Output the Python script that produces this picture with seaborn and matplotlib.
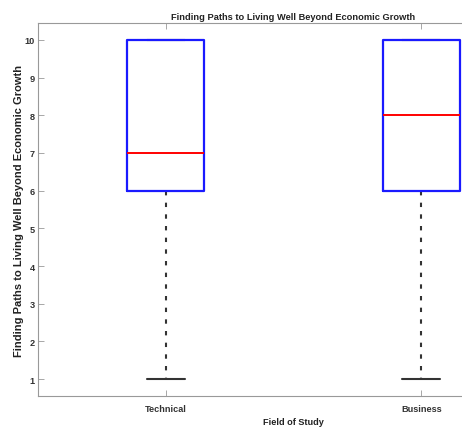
import matplotlib
matplotlib.use("Agg")
import matplotlib.pyplot as plt
import seaborn as sns
import pandas as pd

# Survey responses (scale 1-10) per field of study
categories = ["Technical", "Business"]
technical_scores = [1, 6, 6, 7, 7, 10, 10, 10, 10]
business_scores = [1, 6, 6, 8, 8, 10, 10, 10, 10]
y_ticks = [1, 2, 3, 4, 5, 6, 7, 8, 9, 10]

title = "Finding Paths to Living Well Beyond Economic Growth"
xlabel = "Field of Study"
ylabel = "Finding Paths to Living Well Beyond Economic Growth"

df = pd.DataFrame({
    "field": [categories[0]] * len(technical_scores) + [categories[1]] * len(business_scores),
    "score": technical_scores + business_scores,
})

sns.set_style("white")
plt.rcParams["font.family"] = ["Liberation Sans", "DejaVu Sans"]
plt.rcParams["font.weight"] = "bold"

fig = plt.figure(figsize=(4.62, 4.31), dpi=100)
ax = fig.add_axes([38 / 462, 34 / 431, 511 / 462, 373 / 431])

box_blue = (0.1, 0.1, 1.0)
sns.boxplot(
    data=df, x="field", y="score", order=categories, ax=ax,
    width=0.3, fill=False, color="blue", linewidth=1.6,
    whis=1.5, showfliers=False,
    boxprops=dict(color=box_blue, linewidth=1.6),
    medianprops=dict(color="red", linewidth=1.4),
    whiskerprops=dict(color="#333333", linestyle=(0, (2.1, 3.5)), linewidth=1.5),
    capprops=dict(color="#333333", linewidth=1.5),
)

# draw the blue boxes and red medians above the caps
for ln in ax.lines:
    c = matplotlib.colors.to_rgb(ln.get_color())
    if c == box_blue:
        ln.set_zorder(4)
    elif c == (1.0, 0.0, 0.0):
        ln.set_zorder(5)

ax.set_xlim(-0.5, 1.5)
ax.set_ylim(0.55, 10.45)
ax.set_yticks(y_ticks)
ax.set_yticklabels([str(t) for t in y_ticks], fontsize=6.6, fontweight="bold", color="#333333")
ax.set_xticks([0, 1])
ax.set_xticklabels(categories, fontsize=6.6, fontweight="bold", color="#333333")

ax.tick_params(axis="both", direction="in", length=4, width=0.6, color="#999999",
               top=True, right=True, bottom=True, left=True)
ax.tick_params(axis="y", pad=2.5)
ax.tick_params(axis="x", pad=6)
for s in ax.spines.values():
    s.set_color("#999999")
    s.set_linewidth(0.8)

ax.set_title(title, fontsize=6.7, fontweight="bold", color="#222222", pad=3)
ax.set_xlabel(xlabel, fontsize=6.6, fontweight="bold", color="#222222", labelpad=3)
ax.set_ylabel(ylabel, fontsize=8, fontweight="bold", color="#222222")
ax.yaxis.set_label_coords(-0.027, 0.5)

fig.savefig("out.png", dpi=100)
